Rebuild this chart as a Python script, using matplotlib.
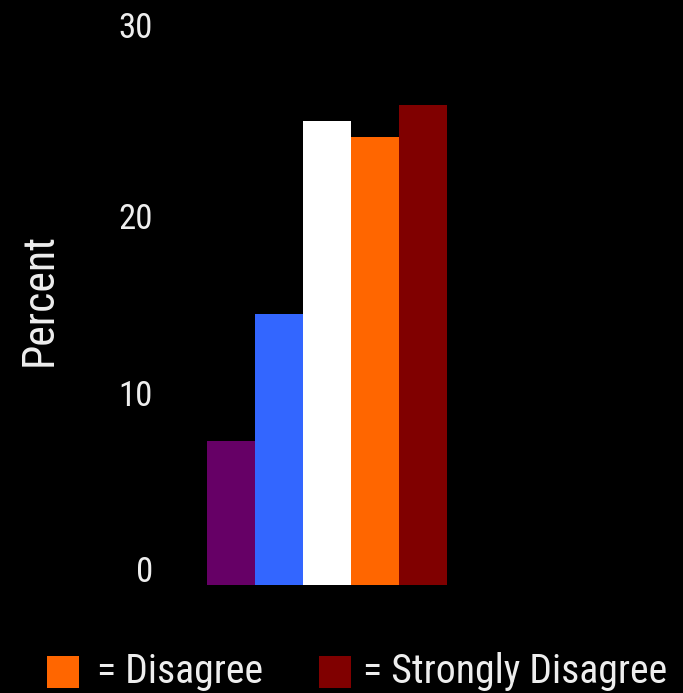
import matplotlib
matplotlib.use('Agg')
import matplotlib.pyplot as plt
from matplotlib.patches import Rectangle
from matplotlib.transforms import ScaledTranslation

categories = ['Strongly Agree', 'Agree', 'Neutral', 'Disagree', 'Strongly Disagree']
values = [7.9, 14.9, 25.5, 24.6, 26.4]
colors = ['#660066', '#3366FF', '#FFFFFF', '#FF6600', '#800000']
yticks = [0, 10, 20, 30]
ytick_labels = ['0', '10', '20', '30']
ylabel = 'Percent'
legend_shown = [3, 4]

FONT = ['Roboto Condensed', 'DejaVu Sans']
plt.rcParams['font.family'] = FONT
TXT = '#EEEEEE'

W, H = 683, 693
fig = plt.figure(figsize=(W / 100, H / 100), dpi=100, facecolor='black')
ax = fig.add_axes([207 / W, 1 - 585 / H, 240 / W, (585 - 39) / H])
ax.set_facecolor('black')
ax.bar(range(len(values)), values, width=1.0, color=colors, linewidth=0)
ax.set_xlim(-0.5, len(values) - 0.5)
ax.set_ylim(0, 30)
ax.set_xticks([])
ax.set_yticks(yticks, ytick_labels)
ax.tick_params(axis='y', length=0, pad=38.9, labelsize=25, labelcolor=TXT)
# small vertical nudges (pixels) of the tick labels as placed in the original
nudges_px = [3, -3, -8, 1]
for lbl, dy in zip(ax.get_yticklabels(), nudges_px):
    lbl.set_va('baseline')
    lbl.set_transform(lbl.get_transform() +
                      ScaledTranslation(0, dy / 100, fig.dpi_scale_trans))
for s in ax.spines.values():
    s.set_visible(False)

fig.text(40 / W, 1 - 300 / H, ylabel, rotation=90, ha='center', va='center',
         fontsize=31.5, color=TXT)

# legend (bottom row visible)
leg_pos = {3: (47, 97), 4: (319, 363)}
for i in legend_shown:
    sx, tx = leg_pos[i]
    fig.add_artist(Rectangle((sx / W, 1 - 688 / H), 32 / W, 32 / H,
                             transform=fig.transFigure, facecolor=colors[i],
                             edgecolor='none'))
    fig.text(tx / W, 1 - 683 / H, '= ' + categories[i], ha='left', va='baseline',
             fontsize=28.6, color=TXT)

fig.savefig('out.png', dpi=100, facecolor='black')
